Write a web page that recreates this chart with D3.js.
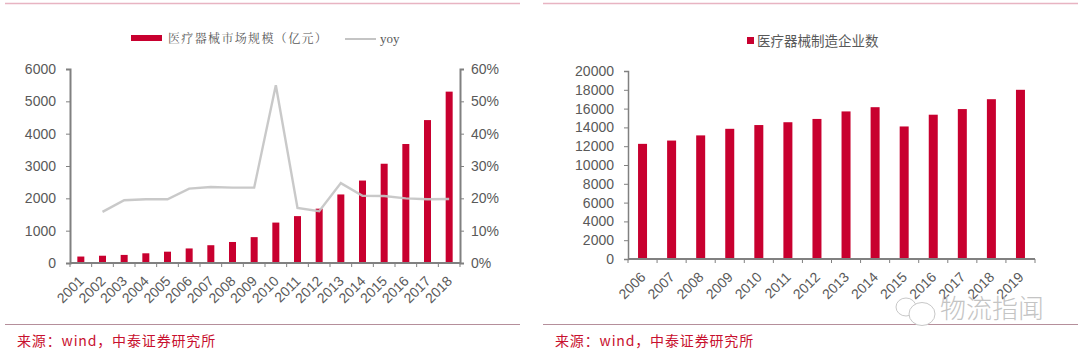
<!DOCTYPE html>
<html><head><meta charset="utf-8">
<script src="https://cdn.jsdelivr.net/npm/d3@7"></script>
<style>
html,body{margin:0;padding:0;background:#fff}
svg{display:block}
text{font-family:"Liberation Sans",Arial,sans-serif}
.domain{fill:none}
</style></head><body>
<svg id="c" width="1080" height="354"></svg>
<script>
const yearsA=["2001","2002","2003","2004","2005","2006","2007","2008","2009","2010","2011","2012","2013","2014","2015","2016","2017","2018"];
const marketSize=[200,225,250,300,350,450,550,650,800,1250,1450,1680,2120,2550,3070,3680,4420,5300];
const yoy=[null,15.8,19.4,19.7,19.7,23,23.5,23.3,23.3,55,17,16,24.7,20.8,20.7,20,19.7,19.8];
const yearsB=["2006","2007","2008","2009","2010","2011","2012","2013","2014","2015","2016","2017","2018","2019"];
const companies=[12250,12600,13150,13850,14250,14550,14900,15700,16150,14100,15350,15950,17000,18000];
const ticksLeft=[0,1000,2000,3000,4000,5000,6000];
const ticksPct=[0,10,20,30,40,50,60];
const ticksB=[0,2000,4000,6000,8000,10000,12000,14000,16000,18000,20000];
const legendA="医疗器械市场规模（亿元）", legendLine="yoy", legendB="医疗器械制造企业数";
const sourceText="来源：wind，中泰证券研究所";
const watermark="物流指闻";
const RED="#c8002f", AX="#808080", TXT="#595959", LINE="#c4c4c4";
const svg=d3.select("#c");
const cjk='"Noto Sans CJK SC",sans-serif';

function rule(x1,x2,y,c,w){svg.append("line").attr("x1",x1).attr("x2",x2).attr("y1",y).attr("y2",y).attr("stroke",c).attr("stroke-width",w);}
rule(5,520,3.5,"#e8b4c2",1.5); rule(543,1078,3.5,"#e8b4c2",1.5);
rule(5,520,324.5,"#b58f9b",1); rule(543,1078,324.5,"#b58f9b",1);

function source(x){svg.append("text").attr("x",x).attr("y",346).attr("fill","#c8102e")
  .style("font-family",cjk).style("font-size","14px").style("letter-spacing","0.85px").text(sourceText);}
source(17); source(555);

function styleAxis(g,w){
  g.selectAll(".domain").attr("stroke",AX).attr("stroke-width",w);
  g.selectAll("line").attr("stroke",AX).attr("stroke-width",1);
  g.selectAll("text").attr("fill",TXT).style("font-size","14px").style("font-family",'"Liberation Sans",sans-serif');
}
function xAxis(g,x,y0){
  g.attr("transform",`translate(0,${y0})`);
  const d=x.domain(), step=x.step();
  g.append("line").attr("x1",x.range()[0]).attr("x2",x.range()[1]).attr("stroke",AX).attr("stroke-width",2);
  g.selectAll("line.t").data(d3.range(d.length+1)).join("line").attr("class","t")
    .attr("x1",i=>x.range()[0]+i*step).attr("x2",i=>x.range()[0]+i*step).attr("y1",0).attr("y2",4).attr("stroke",AX);
  g.selectAll("text").data(d).join("text")
    .attr("transform",c=>`translate(${x(c)+x.bandwidth()/2-3},12) rotate(-45)`)
    .attr("text-anchor","end").attr("dy","0.7em").attr("fill",TXT).style("font-size","14px").text(c=>c);
}

// left chart
{
  const x=d3.scaleBand().domain(yearsA).range([70,460]);
  const y=d3.scaleLinear().domain([0,6000]).range([263,69]);
  const yr=d3.scaleLinear().domain([0,60]).range([263,69]);
  const bw=7;
  svg.append("g").selectAll("rect").data(yearsA).join("rect")
    .attr("x",c=>x(c)+x.bandwidth()/2-bw/2).attr("width",bw)
    .attr("y",(c,i)=>y(marketSize[i])).attr("height",(c,i)=>y(0)-y(marketSize[i])).attr("fill",RED);
  const line=d3.line().defined(d=>d.v!=null).x(d=>x(d.c)+x.bandwidth()/2).y(d=>yr(d.v));
  svg.append("path").datum(yearsA.map((c,i)=>({c,v:yoy[i]}))).attr("d",line).attr("fill","none")
    .attr("stroke",LINE).attr("stroke-width",2.4).attr("stroke-opacity",.92);
  const l=svg.append("g").attr("transform","translate(70,0)").call(d3.axisLeft(y).tickValues(ticksLeft).tickSize(4).tickPadding(10).tickFormat(d3.format("d")));
  styleAxis(l,2);
  const r=svg.append("g").attr("transform","translate(460,0)").call(d3.axisRight(yr).tickValues(ticksPct).tickSize(4).tickPadding(7).tickFormat(d=>d+"%"));
  styleAxis(r,2);
  xAxis(svg.append("g"),x,263);
  svg.append("rect").attr("x",131).attr("y",35).attr("width",31).attr("height",6).attr("fill",RED);
  svg.append("text").attr("x",168).attr("y",42.5).attr("fill",TXT).style("font-family",'"Noto Serif CJK SC","Noto Sans CJK SC",sans-serif')
    .style("font-size","12px").style("letter-spacing","1.35px").text(legendA);
  svg.append("line").attr("x1",345).attr("x2",376).attr("y1",39).attr("y2",39).attr("stroke",LINE).attr("stroke-width",2);
  svg.append("text").attr("x",380).attr("y",43).attr("fill",TXT).style("font-family",'"Liberation Serif",serif').style("font-size","13px").text(legendLine);
}
// right chart
{
  const x=d3.scaleBand().domain(yearsB).range([628,1035]);
  const y=d3.scaleLinear().domain([0,20000]).range([259,71]);
  const bw=9;
  svg.append("g").selectAll("rect").data(yearsB).join("rect")
    .attr("x",c=>x(c)+x.bandwidth()/2-bw/2).attr("width",bw)
    .attr("y",(c,i)=>y(companies[i])).attr("height",(c,i)=>y(0)-y(companies[i])).attr("fill",RED);
  const l=svg.append("g").attr("transform","translate(628,0)").call(d3.axisLeft(y).tickValues(ticksB).tickSize(4).tickPadding(10).tickFormat(d3.format("d")));
  styleAxis(l,1.5);
  xAxis(svg.append("g"),x,259);
  svg.append("rect").attr("x",747).attr("y",37).attr("width",7).attr("height",7).attr("fill",RED);
  svg.append("text").attr("x",757).attr("y",46).attr("fill",TXT).style("font-family",cjk).style("font-size","13.5px").text(legendB);
  // watermark
  const w=svg.append("g").attr("fill","#fff").attr("stroke","#c8c8c8").attr("stroke-width",1);
  w.append("ellipse").attr("cx",906).attr("cy",307).attr("rx",10).attr("ry",9);
  w.append("ellipse").attr("cx",922).attr("cy",314).attr("rx",13).attr("ry",11.5);
  svg.append("text").attr("x",940).attr("y",318).attr("fill","#c4c4c4").style("font-family",cjk).style("font-weight",300)
    .style("font-size","26px").text(watermark);
}
</script></body></html>
